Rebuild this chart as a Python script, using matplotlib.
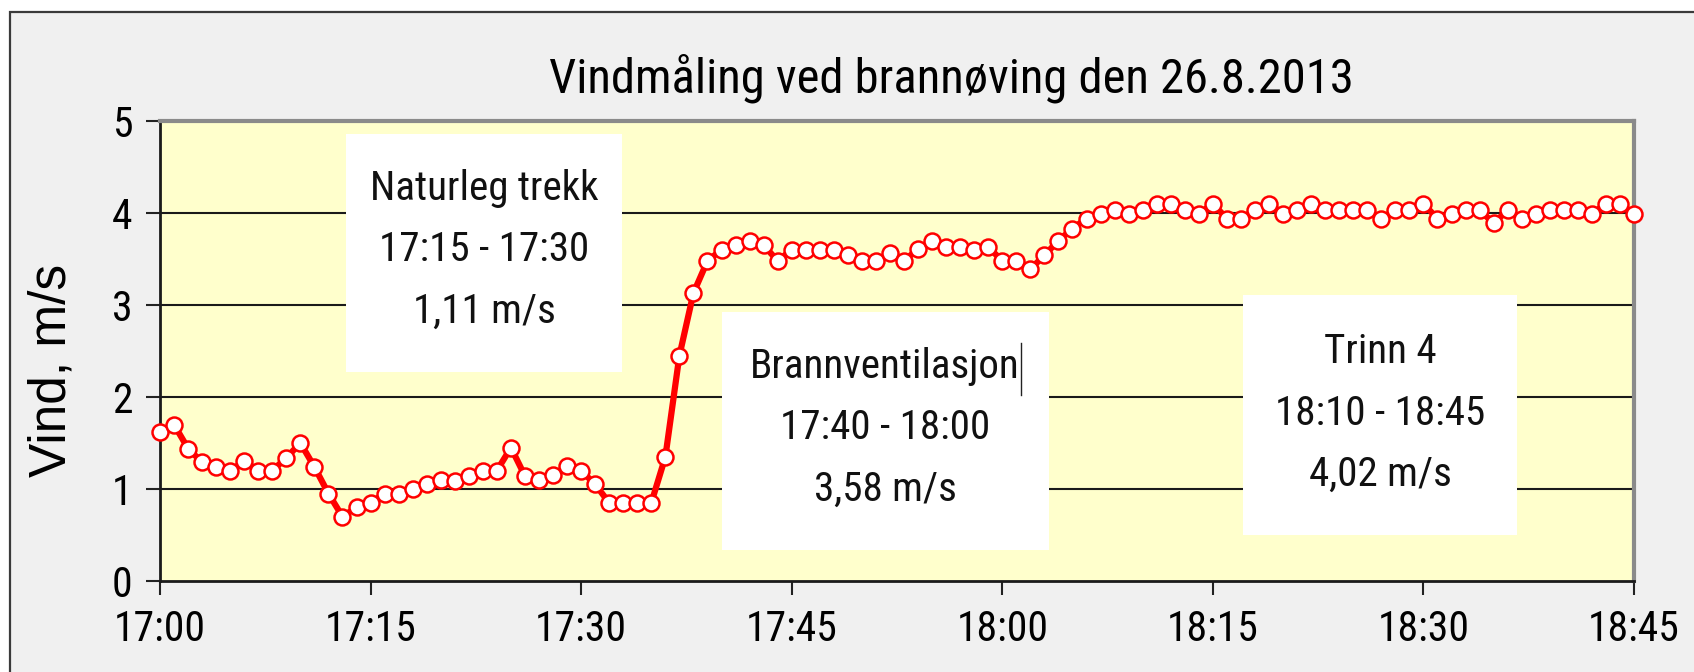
import numpy as np
import matplotlib
matplotlib.use("Agg")
import matplotlib.pyplot as plt
from matplotlib import font_manager as fm
from matplotlib.patches import Rectangle
from matplotlib.lines import Line2D

# wind speed, one reading per minute from 17:00 to 18:45
wind = [1.62, 1.70, 1.44, 1.29, 1.24, 1.20, 1.30, 1.20, 1.20, 1.34,
        1.50, 1.24, 0.95, 0.70, 0.80, 0.85, 0.95, 0.95, 1.00, 1.05,
        1.10, 1.09, 1.14, 1.20, 1.20, 1.45, 1.14, 1.10, 1.15, 1.25,
        1.20, 1.05, 0.85, 0.85, 0.85, 0.85, 1.35, 2.45, 3.13, 3.48,
        3.60, 3.65, 3.70, 3.65, 3.48, 3.60, 3.60, 3.60, 3.60, 3.54,
        3.48, 3.48, 3.56, 3.48, 3.61, 3.70, 3.63, 3.63, 3.60, 3.63,
        3.48, 3.48, 3.39, 3.54, 3.70, 3.83, 3.94, 3.99, 4.03, 3.99,
        4.03, 4.10, 4.10, 4.03, 3.99, 4.10, 3.94, 3.94, 4.03, 4.10,
        3.99, 4.03, 4.10, 4.03, 4.03, 4.03, 4.03, 3.94, 4.03, 4.03,
        4.10, 3.94, 3.99, 4.03, 4.03, 3.89, 4.03, 3.94, 3.99, 4.03,
        4.03, 4.03, 3.99, 4.10, 4.10, 3.99]
minutes = np.arange(len(wind))

tick_labels = ["17:00", "17:15", "17:30", "17:45", "18:00", "18:15", "18:30", "18:45"]
tick_minutes = [0, 15, 30, 45, 60, 75, 90, 105]
y_ticks = [0, 1, 2, 3, 4, 5]

title = "Vindmåling ved brannøving den 26.8.2013"
ylabel = "Vind, m/s"
box_texts = ["Naturleg trekk\n17:15 - 17:30\n1,11 m/s",
             "Brannventilasjon\n17:40 - 18:00\n3,58 m/s",
             "Trinn 4\n18:10 - 18:45\n4,02 m/s"]

# the original text looks squeezed sideways; use a narrow face if there is one
installed = {(f.name, f.stretch) for f in fm.fontManager.ttflist}
narrow, stretch, scale = ["Liberation Sans", "DejaVu Sans"], "normal", 0.82
for name in ["Liberation Sans Narrow", "Arial Narrow", "Roboto Condensed",
             "Open Sans Condensed"]:
    if any(n == name for n, s in installed):
        narrow, stretch, scale = [name, "DejaVu Sans"], "normal", 1.0
        break
else:
    if ("DejaVu Sans", "condensed") in installed or ("DejaVu Sans", "semi-condensed") in installed:
        narrow, stretch, scale = ["DejaVu Sans"], "condensed", 0.86

plt.rcParams["font.family"] = ["Liberation Sans", "DejaVu Sans"]

W, H = 1694, 672
fig = plt.figure(figsize=(W / 100, H / 100), dpi=100, facecolor="white")

# grey chart area frame (runs off the right and bottom edge)
fig.patches.append(Rectangle((10 / W, -0.05), 1.1, 1 - 12 / H + 0.05,
                             transform=fig.transFigure, facecolor="#f0f0f0",
                             edgecolor="#3a3a3a", lw=1.6, zorder=-5))

ax = fig.add_axes([160 / W, 1 - 581 / H, 1474 / W, 460 / H])
ax.set_facecolor("#ffffcc")

ax.plot(minutes, wind, color="red", lw=4.5, marker="o", markersize=11.5,
        markerfacecolor="white", markeredgecolor="red", markeredgewidth=1.8,
        zorder=5, clip_on=False)

tick_font = dict(family=narrow, stretch=stretch, fontsize=30 * scale)
ax.set_xlim(0, 105)
ax.set_ylim(0, 5)
ax.set_xticks(tick_minutes)
ax.set_xticklabels(tick_labels, **tick_font)
ax.set_yticks(y_ticks)
ax.set_yticklabels([str(v) for v in y_ticks], **tick_font)
ax.tick_params(axis="both", direction="out", length=10, width=1.5, color="#222222")
ax.tick_params(axis="x", pad=10)
ax.tick_params(axis="y", pad=10)

for v in y_ticks[1:-1]:
    ax.axhline(v, color="#1a1a1a", lw=1.5, zorder=1)

for side in ["left", "bottom"]:
    ax.spines[side].set_color("#1a1a1a")
    ax.spines[side].set_linewidth(2)
for side in ["top", "right"]:
    ax.spines[side].set_color("#8a8a8a")
    ax.spines[side].set_linewidth(3)

fig.text(52 / W, 1 - 370 / H, ylabel, rotation=90, ha="center", va="center",
         fontsize=37, family=["Liberation Sans", "DejaVu Sans"])
fig.text(951 / W, 1 - 78 / H, title, ha="center", va="center",
         fontsize=35 * scale, family=narrow, stretch=stretch)

# white text boxes (axes fraction)
boxes = [(0.126, 0.454, 0.1874, 0.518),
         (0.381, 0.0674, 0.222, 0.5176),
         (0.7347, 0.10, 0.1859, 0.5217)]
centers = [(0.2198, 0.72), (0.4919, 0.333), (0.828, 0.365)]
for (x0, y0, w, h), (cx, cy), txt in zip(boxes, centers, box_texts):
    ax.add_patch(Rectangle((x0, y0), w, h, transform=ax.transAxes,
                           facecolor="white", edgecolor="none", zorder=3))
    ax.text(cx, cy, txt, transform=ax.transAxes, ha="center", va="center",
            multialignment="center", fontsize=29.5 * scale, linespacing=1.72 / scale,
            family=narrow, stretch=stretch, color="#111111", zorder=4)

# text cursor left in the middle box
fig.add_artist(Line2D([1021 / W, 1021 / W], [1 - 343 / H, 1 - 395 / H],
                      color="#222222", lw=1))

fig.savefig("out.png", dpi=100, facecolor="white")
